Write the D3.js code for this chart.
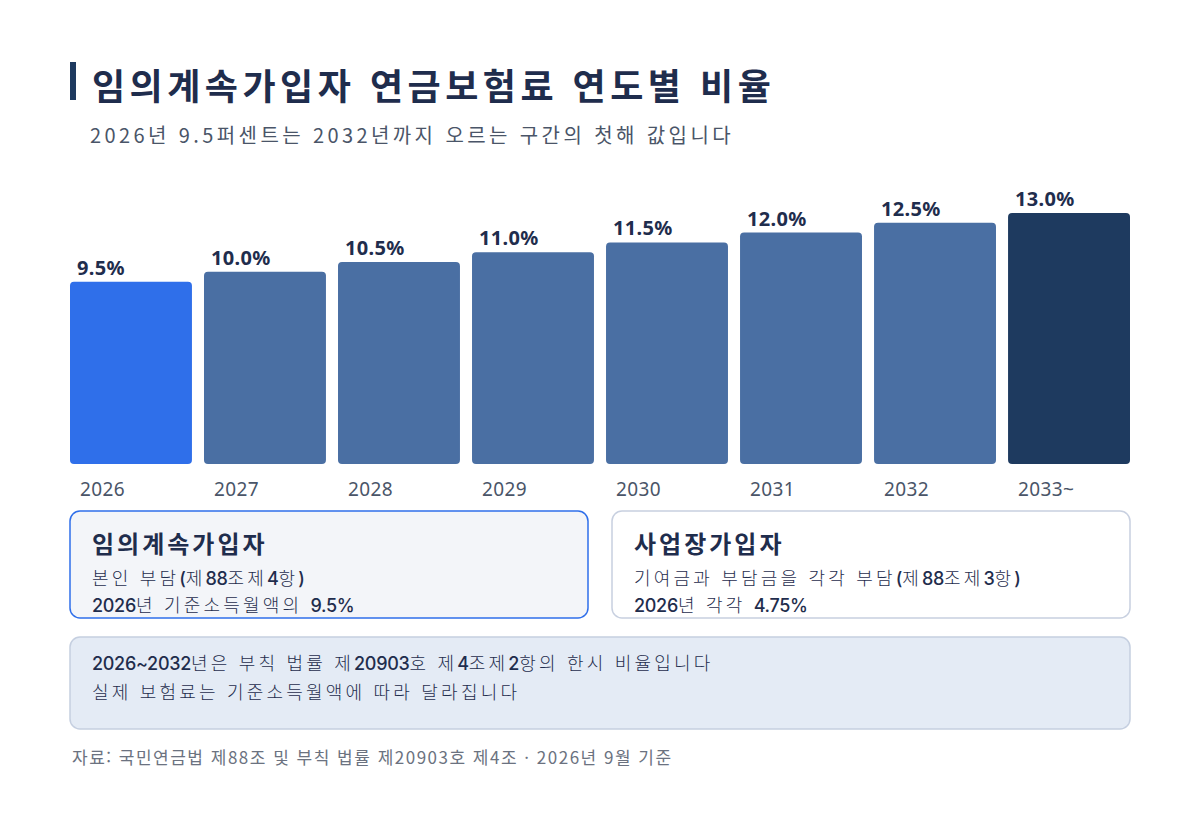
<!DOCTYPE html>
<html lang="ko">
<head>
<meta charset="utf-8">
<script src="https://cdn.jsdelivr.net/npm/d3@7"></script>
<style>
  body { margin: 0; background: #ffffff; }
  svg { display: block; }
  text { white-space: pre; }
</style>
</head>
<body>
<div id="chart"></div>
<script>
/** chart data */
const years = ["2026", "2027", "2028", "2029", "2030", "2031", "2032", "2033~"];
const rates = [9.5, 10.0, 10.5, 11.0, 11.5, 12.0, 12.5, 13.0];

/** texts */
const titleText = "임의계속가입자 연금보험료 연도별 비율";
const subtitleText = "2026년 9.5퍼센트는 2032년까지 오르는 구간의 첫해 값입니다";
const leftCard = ["임의계속가입자", "본인 부담(제88조제4항)", "2026년 기준소득월액의 9.5%"];
const rightCard = ["사업장가입자", "기여금과 부담금을 각각 부담(제88조제3항)", "2026년 각각 4.75%"];
const noteLines = ["2026~2032년은 부칙 법률 제20903호 제4조제2항의 한시 비율입니다", "실제 보험료는 기준소득월액에 따라 달라집니다"];
const sourceText = "자료: 국민연금법 제88조 및 부칙 법률 제20903호 제4조 · 2026년 9월 기준";

const width = 1200, height = 825;
const KR = "'Noto Sans CJK KR', 'Noto Sans', sans-serif";
const LAT = "Inter, 'Noto Sans', sans-serif";
const NUM = "'Noto Sans', 'Open Sans', sans-serif";
const navy = "#1e3a5f", ink = "#1f2d4d", gray = "#4a5568";

const svg = d3.select("#chart").append("svg")
    .attr("width", width)
    .attr("height", height);

/** mixed text: hangul runs spaced out, digits in Inter */
function richText(x, y, str) {
    let t = svg.append("text")
        .attr("x", x).attr("y", y)
        .style("font-size", "18px")
        .attr("fill", ink);
    str.match(/[\uAC00-\uD7A3 ]+|[^\uAC00-\uD7A3 ]+/g).forEach(p => {
        let hangul = /[\uAC00-\uD7A3 ]/.test(p[0]);
        t.append("tspan")
            .style("font-family", hangul ? KR : LAT)
            .style("font-weight", hangul ? 300 : 500)
            .style("letter-spacing", hangul ? "3.2px" : "-0.3px")
            .text(p);
    });
    return t;
}

/** title */
svg.append("rect")
    .attr("x", 70).attr("y", 62).attr("width", 6).attr("height", 38)
    .attr("fill", navy);
svg.append("text")
    .attr("x", 92).attr("y", 100)
    .style("font-family", KR).style("font-weight", 700).style("font-size", "36px")
    .style("letter-spacing", "4.5px")
    .attr("fill", ink)
    .text(titleText);
svg.append("text")
    .attr("x", 90).attr("y", 143)
    .style("font-family", KR).style("font-size", "20px")
    .style("letter-spacing", "3.4px")
    .attr("fill", gray)
    .text(subtitleText);

/** scales */
const xScale = d3.scaleBand()
    .domain(years)
    .range([70, 1130])
    .paddingInner(0.09)
    .paddingOuter(0);

const yScale = d3.scaleLinear()
    .domain([0, 13])
    .range([468, 213]);

const baseY = 464;

function barColor(d, i) {
    if (i === 0) return "#2f6fea";
    if (i === years.length - 1) return navy;
    return "#4a6fa3";
}

const data = years.map((y, i) => ({ year: y, value: rates[i] }));

/** bars */
svg.selectAll(".bar")
    .data(data)
    .enter()
        .append("rect")
        .attr("class", "bar")
        .attr("x", d => xScale(d.year))
        .attr("y", d => yScale(d.value))
        .attr("width", xScale.bandwidth())
        .attr("height", d => baseY - yScale(d.value))
        .attr("rx", 4)
        .attr("fill", barColor);

/** value labels */
svg.selectAll(".bar-value")
    .data(data)
    .enter()
        .append("text")
        .attr("class", "bar-value")
        .attr("x", d => xScale(d.year) + 7)
        .attr("y", d => yScale(d.value) - 7)
        .style("font-family", NUM).style("font-weight", 700).style("font-size", "20px")
        .style("letter-spacing", "0.3px")
        .attr("fill", ink)
        .text(d => d.value.toFixed(1) + "%");

/** x axis labels */
svg.selectAll(".year-label")
    .data(data)
    .enter()
        .append("text")
        .attr("class", "year-label")
        .attr("x", d => xScale(d.year) + 10)
        .attr("y", 496)
        .style("font-family", NUM).style("font-size", "19px")
        .style("letter-spacing", "0.4px")
        .attr("fill", gray)
        .text(d => d.year);

/** cards */
function card(x, w, lines, fill, stroke, sw) {
    svg.append("rect")
        .attr("x", x).attr("y", 511).attr("width", w).attr("height", 107)
        .attr("rx", 10)
        .attr("fill", fill).attr("stroke", stroke).attr("stroke-width", sw);
    svg.append("text")
        .attr("x", x + 22).attr("y", 553)
        .style("font-family", KR).style("font-weight", 700).style("font-size", "24px")
        .style("letter-spacing", "3px")
        .attr("fill", ink)
        .text(lines[0]);
    lines.slice(1).forEach((t, i) => richText(x + 22, 585 + i * 27, t));
}
card(70, 518, leftCard, "#f3f5f9", "#2f6fea", 1.5);
card(612, 518, rightCard, "#ffffff", "#c8d0e0", 1.5);

/** note box */
svg.append("rect")
    .attr("x", 70).attr("y", 637).attr("width", 1060).attr("height", 92)
    .attr("rx", 10)
    .attr("fill", "#e4ebf5").attr("stroke", "#c5cfe0").attr("stroke-width", 1.5);
noteLines.forEach((t, i) => richText(92, 670 + i * 29, t));

/** source */
svg.append("text")
    .attr("x", 72).attr("y", 764)
    .style("font-family", KR).style("font-size", "17px")
    .style("letter-spacing", "1.5px")
    .attr("fill", "#6b7280")
    .text(sourceText);
</script>
</body>
</html>
